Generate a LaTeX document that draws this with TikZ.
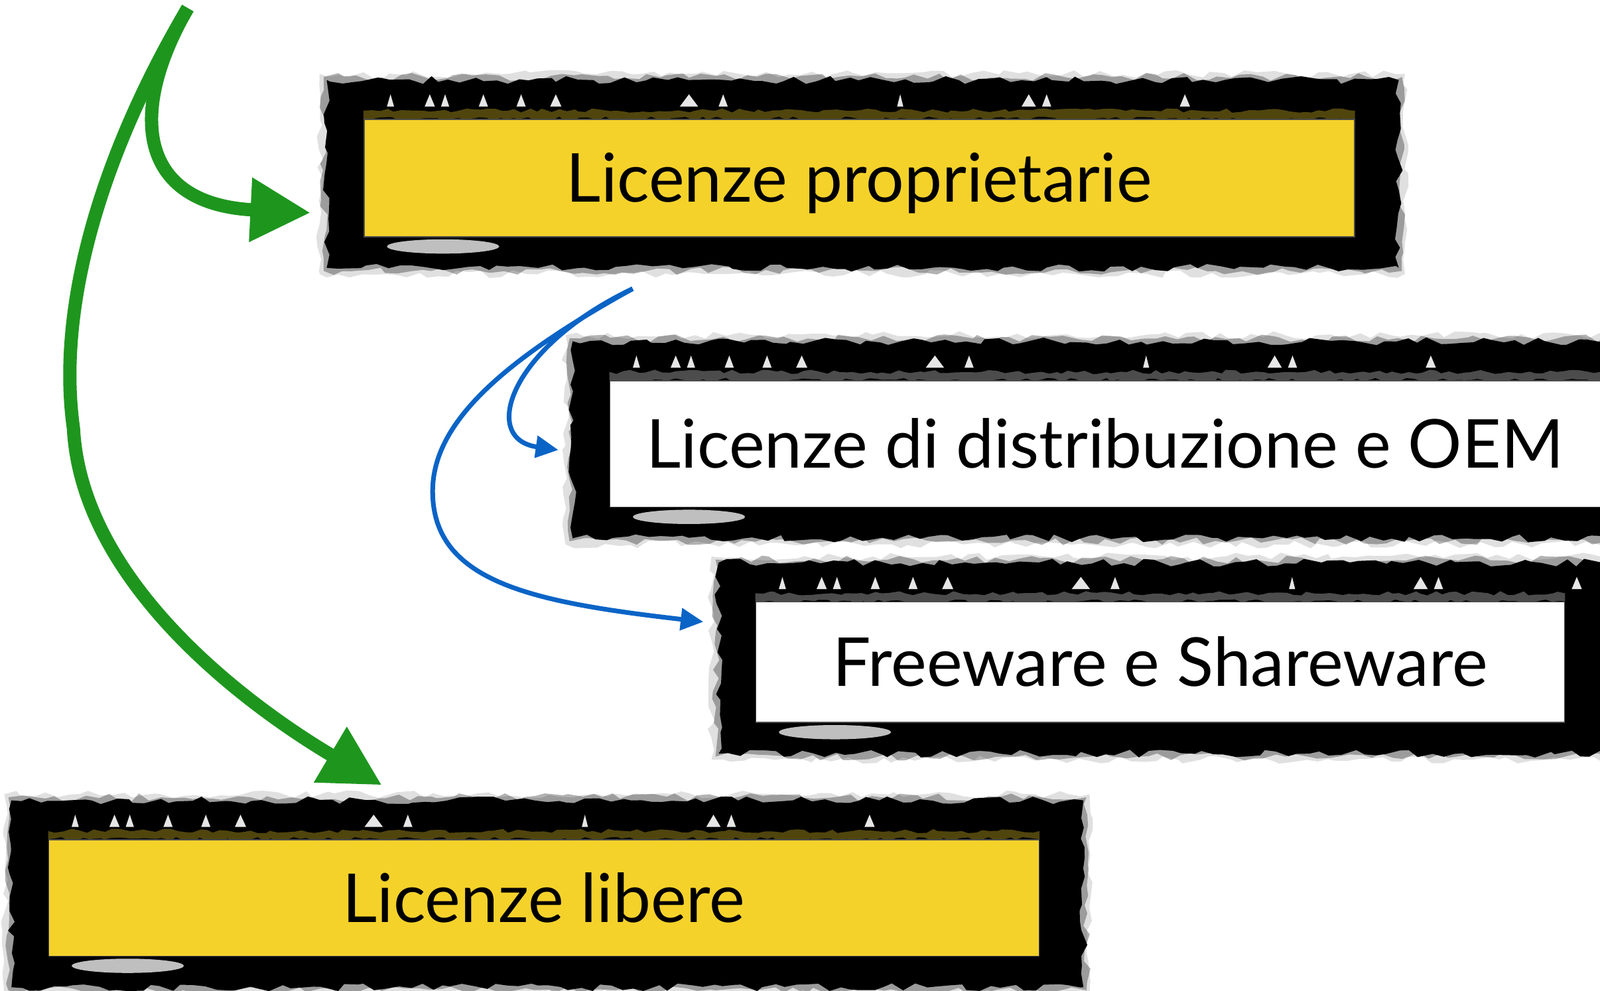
\documentclass[tikz,border=0pt]{standalone}
\usepackage{fontspec}
\setmainfont{Lato}
\usetikzlibrary{arrows.meta,decorations.pathmorphing,backgrounds,calc}
\definecolor{lyellow}{HTML}{F5D22A}
\definecolor{lgreen}{HTML}{1E961E}
\definecolor{lblue}{HTML}{0A64C6}
\tikzset{
 licbox/.style={draw=black!70, line width=0.3pt, inner sep=0pt, font=\fontsize{18.8pt}{22pt}\selectfont, text height=13.5pt, text depth=0pt},
 yelbox/.style={licbox, fill=lyellow},
 whtbox/.style={licbox, fill=white},
 grunge/.style={decorate, decoration={random steps, segment length=3pt, amplitude=1.1pt}},
 garrow/.style={draw=lgreen, line width=3.7pt, -{Triangle[length=16.7pt,width=17pt]}},
 barrow/.style={draw=lblue, line width=1.3pt, -{Triangle[length=6.3pt,width=6pt]}},
}
\newcommand\grungeframe[2]{%
  \fill[black, opacity=.12, grunge] ($(#1.north west)+(-43,-44)$) rectangle ($(#1.south east)+(49,36)$);
  \fill[black, opacity=.3, grunge] ($(#1.north west)+(-39,-41)$) rectangle ($(#1.south east)+(46,33)$);
  \fill[black, grunge] ($(#1.north west)+(-36,-38)$) rectangle ($(#1.south east)+(43,30)$);
  \fill[#2, opacity=.55, decorate, decoration={random steps, segment length=2pt, amplitude=0.6pt}] ($(#1.north west)+(0,-8)$) rectangle ($(#1.north east)+(0,0)$);
  \foreach \dx/\w in {23/7,60/10,76/8,113/9,150/9,183/11,310/18,348/9,523/6,645/14,665/9,800/10}{
    \fill[white, opacity=.9] ($(#1.north west)+(\dx,-12)$) -- ++(\w,0) -- ++(-\w/2,-12) -- cycle;}
  \fill[black!25] ($(#1.south west)+(78,9)$) ellipse [x radius=55, y radius=7];
}
\begin{document}
\begin{tikzpicture}[x=0.01cm,y=-0.01cm]
\useasboundingbox (0,0) rectangle (1568,971);
\clip (0,0) rectangle (1568,971);
\node[yelbox, minimum width=9.70cm, minimum height=1.15cm] (lp) at (842,174.5) {Licenze proprietarie};
\node[whtbox, minimum width=9.70cm, minimum height=1.24cm] (ld) at (1083,435) {Licenze di distribuzione e OEM};
\node[whtbox, minimum width=7.92cm, minimum height=1.18cm] (lf) at (1137,649) {Freeware e Shareware};
\node[yelbox, minimum width=9.70cm, minimum height=1.14cm] (ll) at (533,880) {Licenze libere};
\begin{scope}[on background layer]
\fill[white] (0,0) rectangle (1568,971);
\grungeframe{lp}{lyellow!60!black}
\grungeframe{ld}{black!45}
\grungeframe{lf}{black!45}
\grungeframe{ll}{lyellow!60!black}
\end{scope}
\coordinate (gs) at (184,8);
\coordinate (bs) at (620,283);
\draw[garrow] (gs) .. controls (125,110) and (135,200) .. ($(lp.south west)+(-52,-24)$);
\draw[garrow] (gs) .. controls (100,150) and (55,300) .. (72,420) .. controls (80,570) and (240,690) .. ($(ll.north west)+(327,-53)$);
\draw[barrow] (bs) .. controls (500,340) and (470,430) .. ($(ld.west)+(-50,6)$);
\draw[barrow] (bs) .. controls (480,360) and (425,420) .. (424,480) .. controls (423,570) and (520,590) .. ($(lf.north west)+(-51,20)$);
\end{tikzpicture}
\end{document}
